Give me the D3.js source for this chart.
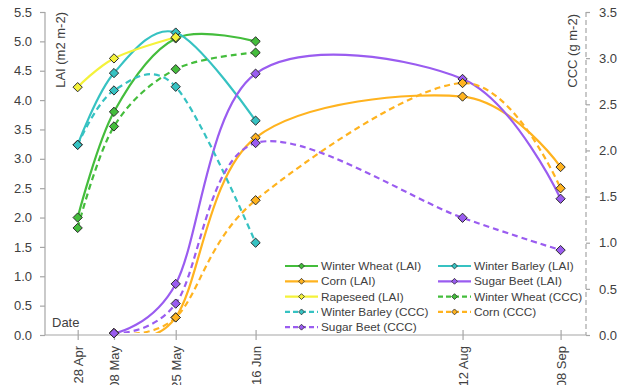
<!DOCTYPE html>
<html>
<head>
<meta charset="utf-8">
<script src="https://cdn.jsdelivr.net/npm/d3@7"></script>
<style>
  body { margin: 0; background: #fff; }
  svg { display: block; font-family: "Liberation Sans", Arial, sans-serif; }
</style>
</head>
<body>
<svg id="chart"></svg>
<script>
const width = 630, height = 385;

// sampling dates
const dates = ["2019-04-28", "2019-05-08", "2019-05-25", "2019-06-16", "2019-08-12", "2019-09-08"];
const dateLabels = ["28 Apr", "08 May", "25 May", "16 Jun", "12 Aug", "08 Sep"];

// LAI (left axis, m2 m-2)
const wheatLAI = [2.0, 3.8, 5.05, 5.0, null, null];
const barleyLAI = [3.24, 4.46, 5.15, 3.65, null, null];
const cornLAI = [null, 0.03, 0.3, 3.36, 4.06, 2.86];
const beetLAI = [null, 0.03, 0.87, 4.45, 4.36, 2.32];
const rapeLAI = [4.22, 4.71, 5.07, null, null, null];

// CCC (right axis, g m-2)
const wheatCCC = [1.16, 2.26, 2.88, 3.06, null, null];
const barleyCCC = [2.06, 2.65, 2.69, 1.0, null, null];
const cornCCC = [null, 0.02, 0.19, 1.46, 2.73, 1.59];
const beetCCC = [null, 0.02, 0.34, 2.08, 1.27, 0.92];

const leftTicks = [0, 0.5, 1, 1.5, 2, 2.5, 3, 3.5, 4, 4.5, 5, 5.5];
const rightTicks = [0, 0.5, 1, 1.5, 2, 2.5, 3, 3.5];

const green = "#44bd3c", teal = "#36c2c2", orange = "#ffb31f", purple = "#9a5cf0", yellow = "#f4f23a";

// legend order (row by row, two columns)
const series = [
  { name: "Winter Wheat (LAI)", values: wheatLAI, color: green, axis: "L", dash: null },
  { name: "Winter Barley (LAI)", values: barleyLAI, color: teal, axis: "L", dash: null },
  { name: "Corn (LAI)", values: cornLAI, color: orange, axis: "L", dash: null },
  { name: "Sugar Beet (LAI)", values: beetLAI, color: purple, axis: "L", dash: null },
  { name: "Rapeseed (LAI)", values: rapeLAI, color: yellow, axis: "L", dash: null },
  { name: "Winter Wheat (CCC)", values: wheatCCC, color: green, axis: "R", dash: "6,4" },
  { name: "Winter Barley (CCC)", values: barleyCCC, color: teal, axis: "R", dash: "6,4" },
  { name: "Corn (CCC)", values: cornCCC, color: orange, axis: "R", dash: "6,4" },
  { name: "Sugar Beet (CCC)", values: beetCCC, color: purple, axis: "R", dash: "6,4" }
];

const svg = d3.select("#chart").attr("width", width).attr("height", height);
const parse = d3.timeParse("%Y-%m-%d");

const x = d3.scaleTime()
  .domain([parse("2019-04-19"), parse("2019-09-15")])
  .range([45, 586]);
const yL = d3.scaleLinear().domain([0, 5.5]).range([335, 12]);
const yR = d3.scaleLinear().domain([0, 3.5]).range([335, 12]);

const axisColor = "#a6a6a6", textColor = "#404040";

// clip curves at the x axis
svg.append("clipPath").attr("id", "plot")
  .append("rect").attr("x", 0).attr("y", 0).attr("width", width).attr("height", 333);

// left axis
const gL = svg.append("g").attr("transform", "translate(45,0)")
  .call(d3.axisLeft(yL).tickValues(leftTicks).tickFormat(d3.format(".1f")).tickSize(5).tickPadding(8));
// right axis (dashed)
const gR = svg.append("g").attr("transform", "translate(586,0)")
  .call(d3.axisRight(yR).tickValues(rightTicks).tickFormat(d3.format(".1f")).tickSize(4).tickPadding(9));
// bottom axis
const gB = svg.append("g").attr("transform", "translate(0,335)")
  .call(d3.axisBottom(x).tickValues(dates.map(parse)).tickFormat((d, i) => dateLabels[i]).tickSize(5));

[gL, gR, gB].forEach(g => {
  g.select(".domain").attr("stroke", axisColor).attr("stroke-width", 1.2);
  g.selectAll(".tick line").attr("stroke", axisColor).attr("stroke-width", 1.2);
  g.selectAll("text").attr("fill", textColor).style("font-size", "13px");
});
gL.select(".domain").attr("d", "M0,12V335");
gR.select(".domain").attr("d", "M0,12V335").attr("stroke-dasharray", "5,3");
gB.select(".domain").attr("d", "M45,0H586");
gB.selectAll(".tick line").attr("y1", -5).attr("y2", 5);
gB.selectAll(".tick text")
  .attr("text-anchor", "end")
  .attr("transform", "translate(0,3) rotate(-90)")
  .attr("x", -8).attr("y", 0).attr("dy", "0.35em");

// axis titles
svg.append("text")
  .attr("transform", "translate(65,12) rotate(-90)")
  .attr("text-anchor", "end")
  .attr("fill", textColor).style("font-size", "13px")
  .text("LAI (m2 m-2)");
svg.append("text")
  .attr("transform", "translate(577,14) rotate(-90)")
  .attr("text-anchor", "end")
  .attr("fill", textColor).style("font-size", "13px")
  .text("CCC (g m-2)");
svg.append("text")
  .attr("x", 52).attr("y", 327)
  .attr("fill", textColor).style("font-size", "13px")
  .text("Date");

// series lines and markers
const diamond = d3.symbol().type(d3.symbolDiamond2).size(55);

series.forEach(s => {
  const y = s.axis === "L" ? yL : yR;
  const pts = s.values
    .map((v, i) => ({ d: parse(dates[i]), v }))
    .filter(p => p.v !== null);
  const line = d3.line()
    .x(p => x(p.d))
    .y(p => y(p.v))
    .curve(d3.curveCatmullRom.alpha(0));
  svg.append("path")
    .datum(pts)
    .attr("d", line)
    .attr("clip-path", "url(#plot)")
    .attr("fill", "none")
    .attr("stroke", s.color)
    .attr("stroke-width", 2.2)
    .attr("stroke-dasharray", s.dash);
  s.pts = pts;
  s.y = y;
});

series.forEach(s => {
  svg.append("g").selectAll("path")
    .data(s.pts)
    .join("path")
    .attr("transform", p => `translate(${x(p.d)},${s.y(p.v)})`)
    .attr("d", diamond)
    .attr("fill", s.color)
    .attr("stroke", "#2b2b2b")
    .attr("stroke-width", 1);
});

// legend
const legend = svg.append("g");
const legDiamond = d3.symbol().type(d3.symbolDiamond2).size(22);
series.forEach((s, i) => {
  const col = i % 2, row = Math.floor(i / 2);
  const lx = col === 0 ? 285 : 438;
  const ly = 266 + row * 15.3;
  const g = legend.append("g").attr("transform", `translate(${lx},${ly})`);
  g.append("line")
    .attr("x1", 0).attr("x2", 33).attr("y1", 0).attr("y2", 0)
    .attr("stroke", s.color).attr("stroke-width", 2.2)
    .attr("stroke-dasharray", s.dash ? "5,3" : null);
  g.append("path")
    .attr("transform", "translate(16.5,0)")
    .attr("d", legDiamond)
    .attr("fill", s.color)
    .attr("stroke", "#2b2b2b")
    .attr("stroke-width", 0.8);
  g.append("text")
    .attr("x", 36).attr("y", 0).attr("dy", "0.35em")
    .attr("fill", textColor).style("font-size", "11.8px")
    .text(s.name);
});
</script>
</body>
</html>
